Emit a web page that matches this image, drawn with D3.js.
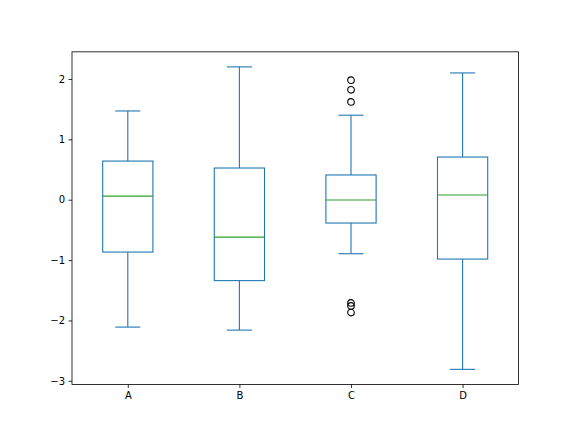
<!DOCTYPE html>
<html>
<head>
<meta charset="utf-8">
<script src="https://cdn.jsdelivr.net/npm/d3@7"></script>
<style>
  body { margin: 0; background: #fff; }
  text { font-family: "DejaVu Sans", sans-serif; font-size: 10px; fill: #000; }
</style>
</head>
<body>
<div id="chart"></div>
<script>
// box statistics
const categories = ["A", "B", "C", "D"];
const whiskerLow = [-2.11, -2.16, -0.895, -2.81];
const q1 = [-0.867, -1.34, -0.386, -0.983];
const medians = [0.06, -0.62, -0.005, 0.077];
const q3 = [0.64, 0.525, 0.41, 0.707];
const whiskerHigh = [1.47, 2.20, 1.40, 2.10];
const fliers = [[], [], [1.98, 1.82, 1.62, -1.71, -1.76, -1.87], []];
const yTicks = [-3, -2, -1, 0, 1, 2];

const W = 576, H = 432;
const margin = { top: 51.84, right: 57.6, bottom: 47.52, left: 72 };
const width = W - margin.left - margin.right;
const height = H - margin.top - margin.bottom;

const x = d3.scaleLinear().domain([0.5, 4.5]).range([0, width]);
const y = d3.scaleLinear().domain([-3.0605, 2.4495]).range([height, 0]);

const svg = d3.select("#chart").append("svg")
    .attr("width", W)
    .attr("height", H);

const g = svg.append("g")
    .attr("transform", "translate(" + margin.left + "," + margin.top + ")");

const boxW = x(1.45) - x(1);
const capW = boxW / 2;
const blue = "#1f77b4";
const lw = 1.1;

const boxes = g.selectAll(".box").data(categories).join("g")
    .attr("class", "box")
    .attr("transform", (d, i) => "translate(" + x(i + 1) + ",0)");

// whiskers
boxes.append("line")
    .attr("y1", (d, i) => y(q3[i])).attr("y2", (d, i) => y(whiskerHigh[i]))
    .attr("stroke", blue).attr("stroke-width", lw);
boxes.append("line")
    .attr("y1", (d, i) => y(q1[i])).attr("y2", (d, i) => y(whiskerLow[i]))
    .attr("stroke", blue).attr("stroke-width", lw);

// caps
boxes.append("line")
    .attr("x1", -capW / 2).attr("x2", capW / 2)
    .attr("y1", (d, i) => y(whiskerHigh[i])).attr("y2", (d, i) => y(whiskerHigh[i]))
    .attr("stroke", blue).attr("stroke-width", lw);
boxes.append("line")
    .attr("x1", -capW / 2).attr("x2", capW / 2)
    .attr("y1", (d, i) => y(whiskerLow[i])).attr("y2", (d, i) => y(whiskerLow[i]))
    .attr("stroke", blue).attr("stroke-width", lw);

// box
boxes.append("rect")
    .attr("x", -boxW / 2)
    .attr("width", boxW)
    .attr("y", (d, i) => y(q3[i]))
    .attr("height", (d, i) => y(q1[i]) - y(q3[i]))
    .attr("fill", "none")
    .attr("stroke", blue).attr("stroke-width", lw);

// median
boxes.append("line")
    .attr("x1", -boxW / 2).attr("x2", boxW / 2)
    .attr("y1", (d, i) => y(medians[i])).attr("y2", (d, i) => y(medians[i]))
    .attr("stroke", "#2ca02c").attr("stroke-width", lw);

// fliers
boxes.each(function (d, i) {
    d3.select(this).selectAll("circle").data(fliers[i]).join("circle")
        .attr("cx", 0)
        .attr("cy", v => y(v))
        .attr("r", 3.3)
        .attr("fill", "none")
        .attr("stroke", "#000")
        .attr("stroke-width", 1.1);
});

// axes
const xAxis = d3.axisBottom(x)
    .tickValues([1, 2, 3, 4])
    .tickFormat((d) => categories[d - 1])
    .tickSize(3.5).tickPadding(3.5);
const yAxis = d3.axisLeft(y)
    .tickValues(yTicks)
    .tickFormat(d => d < 0 ? "\u2212" + Math.abs(d) : d)
    .tickSize(3.5).tickPadding(3.5);

const gx = g.append("g").attr("transform", "translate(0," + height + ")").call(xAxis);
const gy = g.append("g").call(yAxis);
[gx, gy].forEach(a => {
    a.select(".domain").remove();
    a.selectAll(".tick line").attr("stroke", "#000").attr("stroke-width", 0.8);
    a.selectAll(".tick text").style("font-family", "DejaVu Sans").style("font-size", "10px");
});

// frame
g.append("rect")
    .attr("width", width).attr("height", height)
    .attr("fill", "none")
    .attr("stroke", "#000")
    .attr("stroke-width", 0.8);
</script>
</body>
</html>
